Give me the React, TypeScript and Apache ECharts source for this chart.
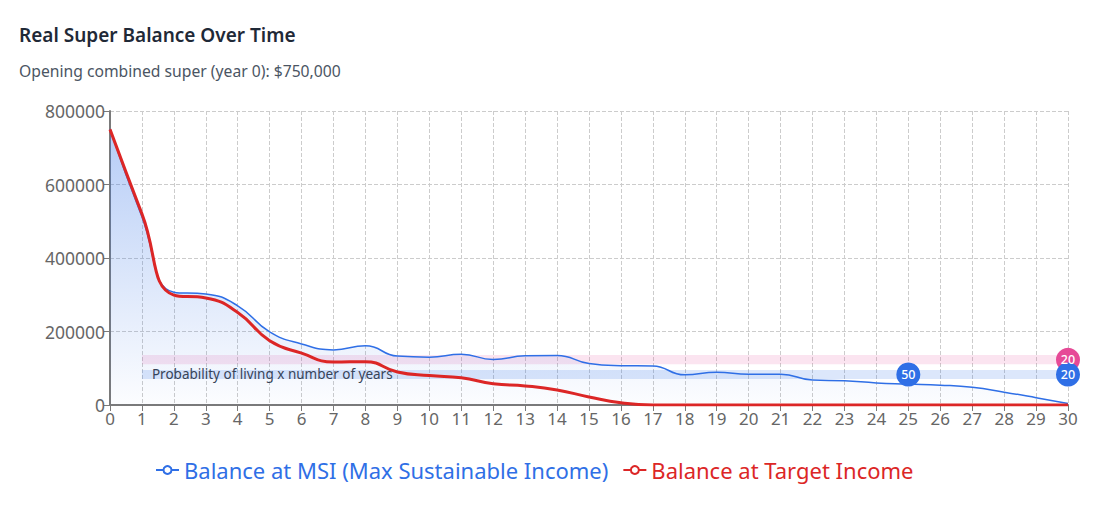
import { useEffect, useRef } from "react";
import * as echarts from "echarts";

const years = Array.from({ length: 31 }, (_, i) => String(i));

const msiBalance = [
  750000, 512000, 307000, 302000, 270000, 199000, 166000, 150000, 161000, 133000,
  130000, 138000, 124000, 134000, 135000, 113000, 107000, 106000, 82000, 89000,
  84000, 84000, 68000, 66000, 60000, 57000, 54000, 48000, 35000, 20000, 4000
];

const targetBalance = [
  750000, 520000, 299000, 291000, 252000, 175000, 141000, 117000, 118000, 90000,
  80000, 74000, 58000, 52000, 41000, 22000, 6000, 0, 0, 0,
  0, 0, 0, 0, 0, 0, 0, 0, 0, 0, 0
];

// probability bands: [from year, to year, low, high]
const targetBand = ["1", "30", 111000, 136000];
const msiBand = ["1", "30", 71000, 95000];

// survival markers: [year, value, label]
const targetMarkers = [["30", 123000, "20"]];
const msiMarkers = [
  ["25", 83000, "50"],
  ["30", 83000, "20"]
];

const blue = "#2f6fe6";
const red = "#dc2626";
const pink = "#e64a97";
const font = "'Noto Sans', sans-serif";

export default function App() {
  const ref = useRef<HTMLDivElement | null>(null);

  useEffect(() => {
    if (!ref.current) {
      return;
    }
    const instance = echarts.init(ref.current, null, { renderer: "svg" });

    instance.setOption({
      animation: false,
      textStyle: { fontFamily: font },
      title: [
        {
          text: "Real Super Balance Over Time",
          left: 14,
          top: 20,
          textStyle: { fontSize: 19, fontWeight: 600, color: "#1f2937", fontFamily: font }
        },
        {
          text: "Opening combined super (year 0): $750,000",
          left: 14,
          top: 58,
          textStyle: { fontSize: 15.7, fontWeight: 400, color: "#4b5563", fontFamily: font }
        }
      ],
      grid: { left: 110, right: 48, top: 111, bottom: 120 },
      legend: {
        left: 150,
        top: 454,
        itemWidth: 23,
        itemHeight: 10,
        itemGap: 14,
        data: [
          { name: "Balance at MSI (Max Sustainable Income)", textStyle: { color: blue } },
          { name: "Balance at Target Income", textStyle: { color: red } }
        ],
        textStyle: { fontSize: 22, fontFamily: font }
      },
      xAxis: {
        type: "category",
        data: years,
        boundaryGap: false,
        axisLine: { lineStyle: { color: "#7a7a7a", width: 2 } },
        axisTick: { show: true, length: 6, lineStyle: { color: "#7a7a7a" } },
        axisLabel: { color: "#666", fontSize: 17, margin: 5 },
        splitLine: { show: true, lineStyle: { color: "#cccccc", type: "dashed" } }
      },
      yAxis: {
        type: "value",
        min: 0,
        max: 800000,
        interval: 200000,
        axisLine: { show: true, lineStyle: { color: "#7a7a7a", width: 2 } },
        axisTick: { show: true, length: 6, lineStyle: { color: "#7a7a7a" } },
        axisLabel: { color: "#666", fontSize: 17.5, margin: 5, formatter: (v: number) => String(v) },
        splitLine: { lineStyle: { color: "#cccccc", type: "dashed" } }
      },
      series: [
        {
          name: "Balance at MSI (Max Sustainable Income)",
          type: "line",
          data: msiBalance,
          smooth: true,
          showSymbol: false,
          symbol: "emptyCircle",
          itemStyle: { color: blue },
          lineStyle: { color: blue, width: 1.5 },
          areaStyle: {
            color: new echarts.graphic.LinearGradient(0, 0, 0, 1, [
              { offset: 0, color: "rgba(47,111,230,0.5)" },
              { offset: 1, color: "rgba(47,111,230,0.02)" }
            ])
          },
          z: 2
        },
        {
          name: "Balance at Target Income",
          type: "line",
          data: targetBalance,
          smooth: true,
          showSymbol: false,
          symbol: "emptyCircle",
          itemStyle: { color: red },
          lineStyle: { color: red, width: 3 },
          z: 3
        },
        {
          name: "bands",
          type: "line",
          data: [],
          z: 4,
          markArea: {
            silent: true,
            data: [
              [
                {
                  xAxis: targetBand[0],
                  yAxis: targetBand[2],
                  itemStyle: { color: "rgba(230,74,151,0.15)" }
                },
                { xAxis: targetBand[1], yAxis: targetBand[3] }
              ],
              [
                {
                  xAxis: msiBand[0],
                  yAxis: msiBand[2],
                  itemStyle: { color: "rgba(47,111,230,0.17)" },
                  label: {
                    show: true,
                    position: "insideLeft",
                    distance: 10,
                    formatter: "Probability of living x number of years",
                    color: "#374151",
                    fontSize: 13.5,
                    fontFamily: font
                  }
                },
                { xAxis: msiBand[1], yAxis: msiBand[3] }
              ]
            ]
          },
          markPoint: {
            symbol: "circle",
            symbolSize: 24,
            label: { color: "#fff", fontSize: 12.5, fontWeight: 500, fontFamily: font },
            data: [
              ...targetMarkers.map(([x, y, v]) => ({
                coord: [x, y],
                value: v,
                itemStyle: { color: pink }
              })),
              ...msiMarkers.map(([x, y, v]) => ({
                coord: [x, y],
                value: v,
                itemStyle: { color: blue }
              }))
            ]
          }
        }
      ]
    });

    return () => {
      instance.dispose();
    };
  }, []);

  return (
    <div style={{ position: "relative", width: 1116, height: 525, background: "#f2f2f2", margin: -8 }}>
      <div
        style={{
          position: "absolute",
          left: 1,
          top: 1,
          width: 1111,
          height: 519,
          background: "#fff",
          border: "1px solid #e5e7eb",
          borderRadius: 10
        }}
      />
      <div ref={ref} style={{ position: "absolute", left: 0, top: 0, width: 1116, height: 525 }} />
    </div>
  );
}
